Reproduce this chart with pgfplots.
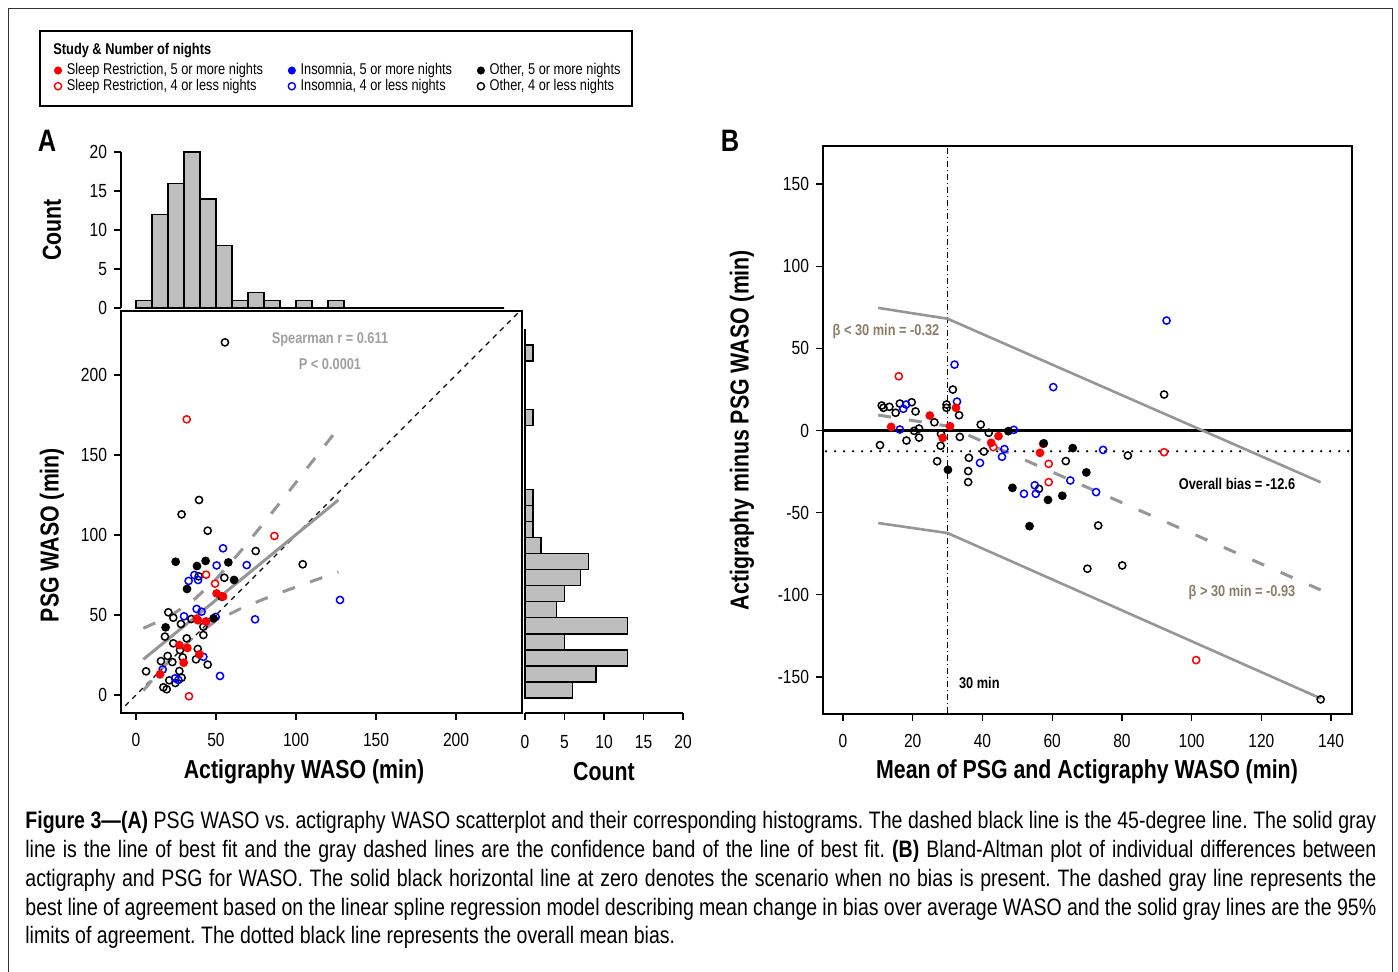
\documentclass[border=0pt]{standalone}
\usepackage{fontspec}
\setmainfont{Liberation Sans}[FakeStretch=0.82]
\usepackage{pgfplots}
\pgfplotsset{compat=1.18}

\definecolor{srred}{RGB}{255,0,0}
\definecolor{inblue}{RGB}{0,0,255}
\definecolor{linegray}{RGB}{150,150,150}
\definecolor{histgray}{RGB}{190,190,190}
\definecolor{betatan}{RGB}{139,126,102}
\definecolor{spgray}{RGB}{160,160,160}

\pgfplotsset{
  pts/.style={only marks, mark size=1.8pt, mark options={line width=0.75pt}, forget plot},
  srf/.style={pts, mark=*, color=srred},
  sro/.style={pts, mark=o, color=srred},
  ino/.style={pts, mark=o, color=inblue},
  otf/.style={pts, mark=*, color=black},
  oto/.style={pts, mark=o, color=black},
  rbase/.style={scale only axis, anchor=south west,
    tick align=outside, major tick length=3.5pt,
    tick style={black, line width=0.6pt},
    axis line style={-, line width=0.6pt},
    tick label style={font=\fontsize{9.5}{11}\selectfont},
    xticklabel style={yshift=-3pt},
    /pgf/number format/assume math mode=true},
}
\newcommand{\lab}{\bfseries\fontsize{13}{15}\selectfont}
\newcommand{\ann}{\bfseries\fontsize{7.8}{9}\selectfont}

\begin{document}
\begin{tikzpicture}[x=0.5pt,y=-0.5pt]
\useasboundingbox (0,0) rectangle (1398,971);
\draw[line width=0.5pt, black!80] (8,980) -- (8,8) -- (1392,8) -- (1392,980);

% ---- A: top histogram (actigraphy)
\begin{axis}[rbase, at={(60.5pt,-154pt)}, width=200.5pt, height=78pt,
  xmin=-9.375, xmax=241.25, ymin=0, ymax=20, clip=false,
  axis x line=none, axis y line*=left, ytick pos=left, ytick={0,5,10,15,20},
  axis line style={-}]
\addplot[ybar interval, fill=histgray, draw=black, line width=0.7pt] coordinates {
  (0,1) (10,12) (20,16) (30,20) (40,14) (50,8) (60,1) (70,2) (80,1) (90,0)
  (100,1) (110,0) (120,1) (130,0) (140,0) (150,0) (160,0) (170,0) (180,0)
  (190,0) (200,0) (210,0) (220,0) (230,0)};
\end{axis}

% ---- A: right histogram (PSG)
\begin{axis}[rbase, at={(262.5pt,-356.5pt)}, width=79pt, height=201pt,
  xmin=0, xmax=20, ymin=-9.375, ymax=241.25, clip=false,
  axis y line=none, axis x line*=bottom, xtick pos=bottom, xtick={0,5,10,15,20},
  axis line style={-}, xticklabel style={yshift=-1pt}]
\addplot[xbar interval, fill=histgray, draw=black, line width=0.7pt] coordinates {
  (6,0) (9,10) (13,20) (5,30) (13,40) (4,50) (5,60) (7,70) (8,80) (2,90)
  (1,100) (1,110) (1,120) (0,130) (0,140) (0,150) (0,160) (1,170) (0,180)
  (0,190) (0,200) (1,210) (0,220) (0,230)};
\end{axis}

% ---- A: scatter
\begin{axis}[rbase, at={(60.5pt,-356.5pt)}, width=200.5pt, height=201pt,
  xmin=-9.375, xmax=241.25, ymin=-11.25, ymax=240,
  xtick={0,50,100,150,200}, ytick={0,50,100,150,200},
  xtick pos=bottom, ytick pos=left,
  legend columns=3, legend cell align=left,
  legend image code/.code={\draw[#1] plot coordinates {(0pt,0pt)};},
  legend style={draw=none, fill=none, inner sep=0pt,
    at={(axis description cs:-0.167,1.62)}, anchor=north west,
    font=\fontsize{7.8}{9}\selectfont, row sep=-0.5pt,
    nodes={inner xsep=2.6pt, inner ysep=0.6pt},
    /tikz/every even column/.append style={column sep=10pt}}]
\addplot[black, line width=0.6pt, dash pattern=on 2.5pt off 2.5pt, forget plot]
  coordinates {(-20,-20) (250,250)};
\addplot[linegray, line width=1.5pt, forget plot] coordinates {(4.6,22.3) (126.5,121.9)};
\addplot[linegray, line width=1.5pt, dash pattern=on 6.5pt off 8pt, forget plot] coordinates {
  (4.6,41.7) (15,46.4) (25,51.8) (37,60.2) (50,72.4) (65,89.4) (80,107.7) (95,126.5) (110,145.7) (126.5,166.8)};
\addplot[linegray, line width=1.5pt, dash pattern=on 6.5pt off 8pt, forget plot] coordinates {
  (4.6,2.8) (15,15.1) (25,26.1) (37,37.3) (50,46.3) (65,53.8) (80,60.0) (95,65.7) (110,71.1) (126.5,76.9)};
\addplot[oto] coordinates {
  (55.6,220.4) (28.5,112.9) (39.4,121.9) (44.8,102.7) (74.8,90.0) (104.2,81.7)
  (39.2,74.2) (55.2,73.3) (20.2,51.7) (23.3,48.3) (34.6,47.5) (28.1,44.4)
  (42.1,42.7) (18.1,36.5) (42.1,37.5) (31.7,35.4) (23.3,32.3) (27.5,28.1)
  (38.6,28.8) (37.5,22.3) (29.2,23.5) (19.8,24.4) (15.6,21.2) (22.7,20.6)
  (44.8,19.0) (6.3,14.8) (27.1,15.0) (28.5,10.8) (20.8,9.2) (24.6,7.5)
  (17.1,4.8) (19.2,3.6)};
\addplot[ino] coordinates {
  (127.5,59.4) (54.4,91.7) (50.4,81.0) (69.2,81.2) (36.5,75.0) (32.9,71.3)
  (38.8,71.9) (74.4,47.3) (30.0,49.2) (37.9,53.8) (41.0,52.1) (49.8,48.8)
  (42.1,23.9) (16.7,16.0) (24.4,10.4) (26.5,9.4) (52.5,11.9)};
\addplot[sro] coordinates {
  (31.7,172.3) (86.5,99.4) (43.8,75.2) (49.4,69.6) (33.1,-0.8) (38.0,47.6)};
\addplot[otf] coordinates {
  (24.8,83.3) (38.1,80.6) (43.5,83.8) (57.7,82.9) (61.3,71.9) (31.9,66.3)
  (48.5,47.9) (18.5,42.3) (53.5,61.5)};
\addplot[srf] coordinates {
  (50.4,63.5) (54.4,61.5) (38.8,46.7) (43.8,46.0) (27.1,31.2) (32.1,29.4)
  (39.6,25.4) (29.8,20.2) (15.0,12.9)};
\addlegendimage{only marks, mark=*, color=srred, mark size=1.8pt}
\addlegendentry{Sleep Restriction, 5 or more nights}
\addlegendimage{only marks, mark=*, color=inblue, mark size=1.8pt}
\addlegendentry{Insomnia, 5 or more nights}
\addlegendimage{only marks, mark=*, color=black, mark size=1.8pt}
\addlegendentry{Other, 5 or more nights}
\addlegendimage{only marks, mark=o, color=srred, mark size=1.8pt, mark options={line width=0.7pt}}
\addlegendentry{Sleep Restriction, 4 or less nights}
\addlegendimage{only marks, mark=o, color=inblue, mark size=1.8pt, mark options={line width=0.7pt}}
\addlegendentry{Insomnia, 4 or less nights}
\addlegendimage{only marks, mark=o, color=black, mark size=1.8pt, mark options={line width=0.7pt}}
\addlegendentry{Other, 4 or less nights}
\end{axis}

% ---- B: Bland-Altman
\begin{axis}[rbase, at={(411.5pt,-357pt)}, width=264.5pt, height=284pt,
  xmin=-5.74, xmax=146, ymin=-172.5, ymax=173.1,
  xtick={0,20,40,60,80,100,120,140}, ytick={-150,-100,-50,0,50,100,150},
  yticklabels={-150,-100,-50,0,50,100,150},
  xtick pos=bottom, ytick pos=left]
\addplot[black, line width=1.5pt] coordinates {(-10,0) (150,0)};
\addplot[black, line width=1.3pt, line cap=round, dash pattern=on 0pt off 4.5pt]
  coordinates {(-10,-12.6) (150,-12.6)};
\addplot[black, line width=0.6pt, dash pattern=on 3pt off 1.5pt on 0.5pt off 1.5pt]
  coordinates {(30,-180) (30,180)};
\addplot[linegray, line width=1.3pt] coordinates {(10.1,74.6) (30,68.0) (137,-31.5)};
\addplot[linegray, line width=1.3pt] coordinates {(10.1,-56.3) (30,-62.4) (137,-163)};
\addplot[linegray, line width=1.5pt, dash pattern=on 6.5pt off 9pt]
  coordinates {(10.1,9.4) (30,2.7) (137,-97)};
\addplot[oto] coordinates {
  (31.5,24.9) (29.7,15.8) (29.7,13.8) (33.3,9.3) (11.1,15.2) (11.6,13.8)
  (13.3,14.4) (16.3,16.4) (19.7,17.2) (15.1,10.8) (20.8,11.6) (26.2,5.0)
  (20.4,-0.2) (21.8,1.2) (28.1,-2.0) (33.5,-3.9) (21.8,-4.3) (18.2,-6.1)
  (10.6,-8.9) (28.0,-9.3) (27.0,-18.7) (36.1,-16.6) (35.9,-24.7) (35.9,-31.4)
  (39.5,3.6) (40.4,-12.8) (41.8,-1.4) (92.1,21.9) (81.7,-15.2) (63.9,-18.6)
  (56.2,-35.5) (73.2,-57.8) (70.1,-84.1) (80.1,-82.1) (137.0,-163.6)};
\addplot[ino] coordinates {
  (32.0,40.1) (32.7,17.6) (18.1,15.8) (17.3,13.2) (16.3,0.6) (39.3,-19.7)
  (46.3,-11.3) (45.6,-16.0) (49.0,0.4) (92.8,66.9) (60.3,26.4) (74.6,-11.8)
  (65.2,-30.4) (51.9,-38.5) (55.0,-33.3) (55.3,-38.5) (72.6,-37.5)};
\addplot[sro] coordinates {
  (16.0,33.0) (43.1,-10.1) (92.1,-13.2) (59.0,-20.3) (59.0,-31.4) (101.3,-139.7)};
\addplot[srf] coordinates {
  (32.4,13.8) (24.9,9.1) (13.8,2.2) (30.7,2.6) (28.6,-4.5) (44.6,-3.4)
  (42.5,-7.5) (57.4,-8.1) (56.5,-13.6)};
\addplot[otf] coordinates {
  (30.1,-23.9) (47.4,-0.4) (48.6,-34.9) (65.9,-10.7) (57.6,-7.8) (69.8,-25.5)
  (58.8,-42.2) (62.9,-39.7) (53.5,-58.2)};
\end{axis}

% ---- legend frame and title
\draw[line width=0.6pt] (40,31) rectangle (632,106);
\node[anchor=base west, inner sep=0pt, font=\ann] at (53,54) {Study \& Number of nights};

% ---- panel letters and axis titles
\node[font=\bfseries\fontsize{15.5}{18}\selectfont] at (47,141) {A};
\node[font=\bfseries\fontsize{15.5}{18}\selectfont] at (730,141) {B};
\node[font=\lab, rotate=90] at (52,230) {Count};
\node[font=\lab, rotate=90] at (52,535) {PSG WASO (min)};
\node[font=\lab] at (304,772) {Actigraphy WASO (min)};
\node[font=\lab] at (604,772) {Count};
\node[font=\lab, rotate=90] at (742,430) {Actigraphy minus PSG WASO (min)};
\node[font=\lab] at (1087,772) {Mean of PSG and Actigraphy WASO (min)};

% ---- annotations
\node[font=\ann, text=spgray] at (330,340) {Spearman r = 0.611};
\node[font=\ann, text=spgray] at (330,364) {P < 0.0001};
\node[font=\ann, text=betatan] at (886,331) {β < 30 min = -0.32};
\node[font=\ann, text=betatan] at (1242,592) {β > 30 min = -0.93};
\node[font=\ann] at (1237,484) {Overall bias = -12.6};
\node[font=\ann, anchor=west] at (952,683) {30 min};

% ---- caption
\node[anchor=north west, inner sep=0pt, text width=675.5pt, align=justify,
  font=\fontsize{11.9}{14.4}\selectfont] at (25,811) {\frenchspacing
\textbf{Figure 3—(A)} PSG WASO vs. actigraphy WASO scatterplot and their corresponding histograms. The dashed black line is the 45-degree line. The solid gray\linebreak
line is the line of best fit and the gray dashed lines are the confidence band of the line of best fit. \textbf{(B)} Bland-Altman plot of individual differences between\linebreak
actigraphy and PSG for WASO. The solid black horizontal line at zero denotes the scenario when no bias is present. The dashed gray line represents the\linebreak
best line of agreement based on the linear spline regression model describing mean change in bias over average WASO and the solid gray lines are the 95\%\linebreak
limits of agreement. The dotted black line represents the overall mean bias.};
\end{tikzpicture}
\end{document}
